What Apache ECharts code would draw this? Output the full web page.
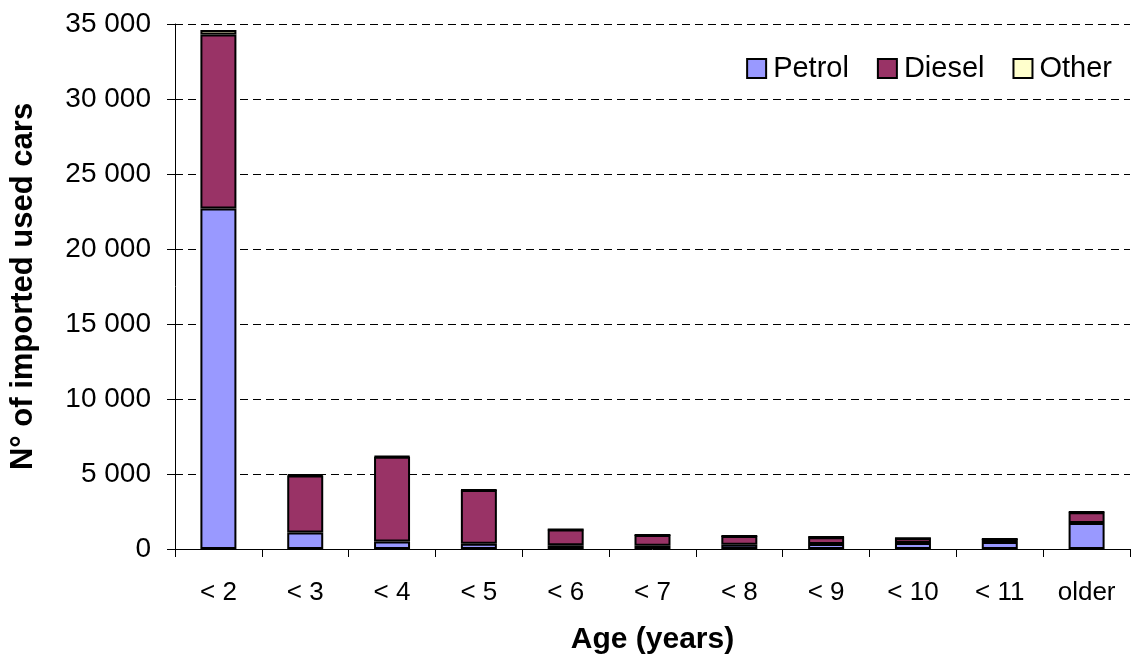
<!DOCTYPE html>
<html>
<head>
<meta charset="utf-8">
<script src="https://cdn.jsdelivr.net/npm/echarts@6/dist/echarts.min.js"></script>
<style>
  html, body { margin: 0; padding: 0; background: #fff; }
  #chart { width: 1131px; height: 657px; }
</style>
</head>
<body>
<div id="chart"></div>
<script>
// categories and values
const ages = ['< 2', '< 3', '< 4', '< 5', '< 6', '< 7', '< 8', '< 9', '< 10', '< 11', 'older'];
const petrol = [22700, 1100, 500, 350, 250, 220, 280, 330, 400, 470, 1730];
const diesel = [11600, 3800, 5650, 3580, 1050, 710, 580, 460, 320, 190, 720];
const other = [300, 60, 50, 20, 10, 10, 10, 10, 10, 10, 20];

var myChart = echarts.init(document.getElementById('chart'));

function fmt(v) {
    // thousands separated by a space
    return String(v).replace(/\B(?=(\d{3})+(?!\d))/g, ' ');
}

const font = 'Liberation Sans, Arial, sans-serif';
const barStyle = function (color) {
    return { color: color, borderColor: '#000', borderWidth: 2 };
};

var option = {
    animation: false,
    textStyle: { fontFamily: font },
    grid: { left: 175, right: 1, top: 24, bottom: 108, outerBoundsMode: 'none' },
    legend: {
        right: 14,
        top: 49,
        icon: 'rect',
        itemWidth: 19,
        itemHeight: 19,
        itemGap: 28,
        textStyle: { fontSize: 29, color: '#000', fontFamily: font, padding: [0, 0, 0, 2] },
        data: ['Petrol', 'Diesel', 'Other']
    },
    xAxis: {
        type: 'category',
        data: ages,
        name: 'Age (years)',
        nameLocation: 'middle',
        nameGap: 76,
        nameTextStyle: { fontSize: 30, fontWeight: 'bold', color: '#000' },
        axisLine: { lineStyle: { color: '#000', width: 1 } },
        axisTick: { show: true, length: 8, lineStyle: { color: '#000' } },
        axisLabel: { fontSize: 26, color: '#000', margin: 31 }
    },
    yAxis: {
        type: 'value',
        min: 0,
        max: 35000,
        interval: 5000,
        name: 'N° of imported used cars',
        nameLocation: 'middle',
        nameGap: 136,
        nameTextStyle: { fontSize: 31, fontWeight: 'bold', color: '#000' },
        axisLine: { show: true, lineStyle: { color: '#000', width: 1 } },
        axisTick: { show: true, length: 8, lineStyle: { color: '#000' } },
        axisLabel: { fontSize: 28, color: '#000', margin: 24, formatter: fmt },
        splitLine: { show: true, lineStyle: { color: '#000', type: [8, 5], width: 1 } }
    },
    series: [
        { name: 'Petrol', type: 'bar', stack: 'age', barWidth: 36, data: petrol, itemStyle: barStyle('#9999ff') },
        { name: 'Diesel', type: 'bar', stack: 'age', barWidth: 36, data: diesel, itemStyle: barStyle('#993366') },
        { name: 'Other', type: 'bar', stack: 'age', barWidth: 36, data: other, itemStyle: barStyle('#ffffcc') }
    ]
};

myChart.setOption(option);
</script>
</body>
</html>
